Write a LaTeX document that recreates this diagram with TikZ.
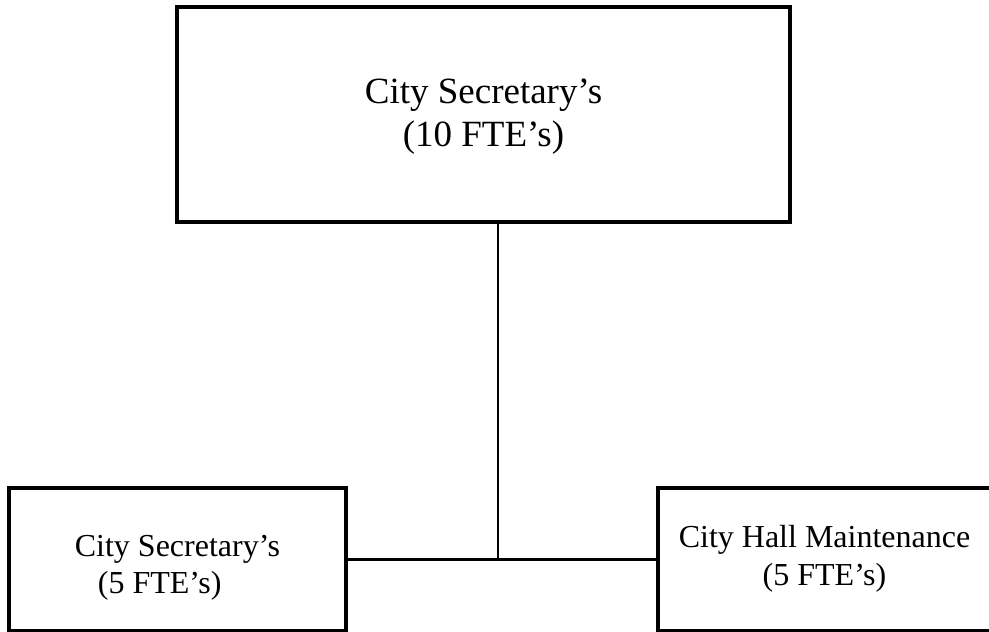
\documentclass[tikz,border=0pt]{standalone}
\usepackage{fontspec}
\setmainfont{Liberation Serif}
\usetikzlibrary{calc}

\tikzset{
  unit/.style={draw, line width=3.2pt, inner sep=0pt},
  link/.style={line width=2.9pt}
}

\begin{document}
\begin{tikzpicture}[x=1pt,y=-1pt]
  \useasboundingbox (0,0) rectangle (989,632);

  % Department head
  \node[unit, align=center, minimum width=613pt, minimum height=215pt,
        text height=72pt, font=\fontsize{37}{43}\selectfont] (head) at (483.5,114.5)
        {City Secretary’s\\(10 FTE’s)};

  % Divisions
  \node[unit, align=left, minimum width=337pt, minimum height=142.5pt,
        text height=76pt, font=\fontsize{32}{37}\selectfont] (secretary) at (177.5,559.25)
        {City Secretary’s\\\hspace*{23pt}(5 FTE’s)};
  \node[unit, align=center, minimum width=333pt, minimum height=142.5pt,
        font=\fontsize{32}{38}\selectfont] (hall) at (824.5,559.25)
        {City Hall Maintenance\\(5 FTE’s)};

  \coordinate (joint) at (498,559.25);
  \draw[link] (head.south -| joint) -- (joint);  % Trunk
  \draw[link] (secretary.east) -- (hall.west);
\end{tikzpicture}
\end{document}
